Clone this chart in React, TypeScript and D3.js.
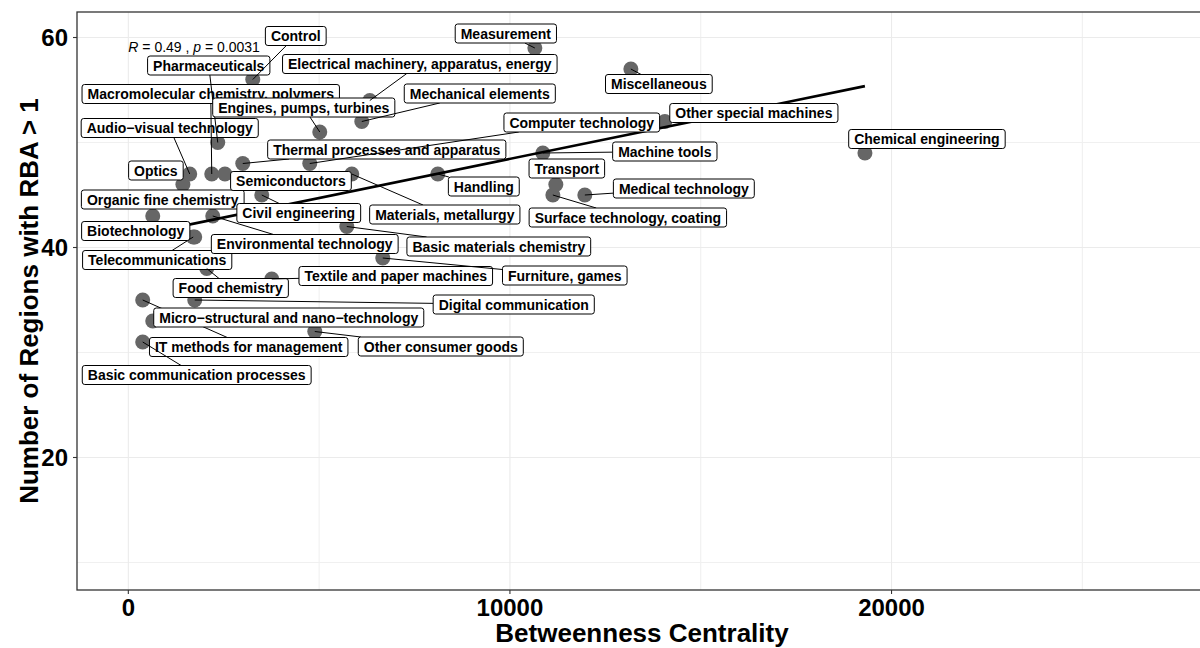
import React from "react";
import * as d3 from "d3";

// ---- data (ordered by betweenness, ascending) ----
const fields = [
  "IT methods for management",
  "Basic communication processes",
  "Organic fine chemistry",
  "Micro\u2212structural and nano\u2212technology",
  "Optics",
  "Audio\u2212visual technology",
  "Telecommunications",
  "Biotechnology",
  "Digital communication",
  "Food chemistry",
  "Macromolecular chemistry, polymers",
  "Environmental technology",
  "Pharmaceuticals",
  "Semiconductors",
  "Thermal processes and apparatus",
  "Control",
  "Civil engineering",
  "Textile and paper machines",
  "Computer technology",
  "Other consumer goods",
  "Engines, pumps, turbines",
  "Basic materials chemistry",
  "Materials, metallurgy",
  "Mechanical elements",
  "Electrical machinery, apparatus, energy",
  "Furniture, games",
  "Handling",
  "Measurement",
  "Machine tools",
  "Surface technology, coating",
  "Transport",
  "Medical technology",
  "Miscellaneous",
  "Other special machines",
  "Chemical engineering",
];
const betweenness = [
  377, 377, 640, 640, 1430, 1609, 1700, 1740, 1740, 2055, 2186, 2212, 2343, 2532, 2999, 3261, 3497, 3759,
  4755, 4886, 5017, 5725, 5856, 6118, 6328, 6668, 8110, 10653, 10862, 11125, 11203, 11963, 13169, 14060, 19303,
];
const regionsRBA = [
  35, 31, 43, 33, 46, 47, 41, 41, 35, 38, 47, 43, 50, 47, 48, 56, 45, 37,
  48, 32, 51, 42, 47, 52, 54, 39, 47, 59, 49, 45, 46, 45, 57, 52, 49,
];
const xMajorTicks = [0, 10000, 20000];
const xMinorTicks = [5000, 15000, 25000];
const yMajorTicks = [20, 40, 60];
const yMinorTicks = [10, 30, 50];
const corR = "0.49";
const corP = "0.0031";
const corLabelAt = [0, 58.6];
const xTitle = "Betweenness Centrality";
const yTitle = "Number of Regions with RBA > 1";

// ---- repel-label layout: offsets (px) from point to label centre ----
const labelDx = [
  106, 54, 10, 136, -27, -20, -36, -59, 319, 24, -1, 92, -9, 66, 144, 43, 37, 124,
  272, 126, -16, 152, 93, 118, 50, 182, 46, -29, 122, 75, 11, 99, 28, 89, 62,
];
const labelDy = [
  47, 33, -16.5, -3.5, -14, -46, 23, -6, 4.5, 19.5, -80, 28, -77, 7, -14, -43.5, 18, -3,
  -41, 15, -24.5, 20, 40.5, -28, -36.5, 17.5, 12.5, -14.5, -1.5, 22.5, -16, -6.5, 15, -8.5, -14,
];

const FONT = "'Liberation Sans', Arial, Helvetica, sans-serif";

function measure(text: string, font: string): number {
  const c = document.createElement("canvas").getContext("2d");
  if (!c) return text.length * 8;
  c.font = font;
  return c.measureText(text).width;
}

export default function App() {
  const W = 1200;
  const H = 648;
  const P = { left: 77, right: 1207, top: 12, bottom: 590 };
  const x = d3.scaleLinear().domain([-1345, 28267]).range([P.left, P.right]);
  const y = d3.scaleLinear().domain([7.38, 62.43]).range([P.bottom, P.top]);

  // linear regression
  const n = betweenness.length;
  const mx = d3.mean(betweenness) as number;
  const my = d3.mean(regionsRBA) as number;
  let sxy = 0, sxx = 0;
  for (let i = 0; i < n; i++) {
    sxy += (betweenness[i] - mx) * (regionsRBA[i] - my);
    sxx += (betweenness[i] - mx) ** 2;
  }
  const slope = sxy / sxx;
  const icpt = my - slope * mx;
  const [xmin, xmax] = d3.extent(betweenness) as [number, number];
  const line = d3.line<number>().x((v) => x(v)).y((v) => y(icpt + slope * v));

  const labelFont = `bold 14px ${FONT}`;
  const labels = fields.map((name, i) => {
    const px = x(betweenness[i]);
    const py = y(regionsRBA[i]);
    const cx = px + labelDx[i];
    const cy = py + labelDy[i];
    const tw = measure(name, labelFont);
    const w = tw + 11;
    const h = 19;
    const bx1 = cx - w / 2, bx2 = cx + w / 2, by1 = cy - h / 2, by2 = cy + h / 2;
    const dx = cx - px, dy = cy - py;
    let t = 1;
    const inside = px >= bx1 && px <= bx2 && py >= by1 && py <= by2;
    if (!inside) {
      const ts: number[] = [];
      if (dx !== 0) {
        for (const bx of [bx1, bx2]) {
          const tt = (bx - px) / dx;
          const yy = py + tt * dy;
          if (tt >= 0 && tt <= 1 && yy >= by1 - 0.01 && yy <= by2 + 0.01) ts.push(tt);
        }
      }
      if (dy !== 0) {
        for (const by of [by1, by2]) {
          const tt = (by - py) / dy;
          const xx = px + tt * dx;
          if (tt >= 0 && tt <= 1 && xx >= bx1 - 0.01 && xx <= bx2 + 0.01) ts.push(tt);
        }
      }
      if (ts.length) t = Math.min(...ts);
    }
    const ex = px + t * dx, ey = py + t * dy;
    const segLen = Math.hypot(ex - px, ey - py);
    const showSeg = !inside && segLen > 11 && !(Math.abs(ey - py) < 6 && Math.abs(ex - px) < 20 && dy < 0 && dx > 40);
    return { name, px, py, cx, cy, w, h, bx1, by1, ex, ey, showSeg };
  });

  return (
    <svg
      width={W}
      height={H}
      style={{ position: "absolute", left: 0, top: 0, background: "#fff" }}
      fontFamily={FONT}
    >
      <defs>
        <clipPath id="panel">
          <rect x={P.left} y={P.top} width={P.right - P.left} height={P.bottom - P.top} />
        </clipPath>
      </defs>
      <rect x={0} y={0} width={W} height={H} fill="#fff" />
      <g clipPath="url(#panel)">
        {xMinorTicks.map((v) => (
          <line key={"xm" + v} x1={x(v)} x2={x(v)} y1={P.top} y2={P.bottom} stroke="#f0f0f0" strokeWidth={1.1} />
        ))}
        {yMinorTicks.map((v) => (
          <line key={"ym" + v} x1={P.left} x2={P.right} y1={y(v)} y2={y(v)} stroke="#f0f0f0" strokeWidth={1.1} />
        ))}
        {xMajorTicks.map((v) => (
          <line key={"xM" + v} x1={x(v)} x2={x(v)} y1={P.top} y2={P.bottom} stroke="#ebebeb" strokeWidth={1.1} />
        ))}
        {yMajorTicks.map((v) => (
          <line key={"yM" + v} x1={P.left} x2={P.right} y1={y(v)} y2={y(v)} stroke="#ebebeb" strokeWidth={1.1} />
        ))}
        {labels.map((l, i) => (
          <circle key={"pt" + i} cx={l.px} cy={l.py} r={7.5} fill="#666666" />
        ))}
        <path d={line([xmin, xmax]) || ""} stroke="#000" strokeWidth={2.6} fill="none" />
        <text x={x(corLabelAt[0])} y={y(corLabelAt[1])} fontSize={14} fill="#000">
          <tspan fontStyle="italic">R</tspan>
          <tspan>{` = ${corR} , `}</tspan>
          <tspan fontStyle="italic">p</tspan>
          <tspan>{` = ${corP}`}</tspan>
        </text>
        {labels.map((l, i) => (
          <g key={"lb" + i}>
            {l.showSeg && <line x1={l.px} y1={l.py} x2={l.ex} y2={l.ey} stroke="#000" strokeWidth={1} />}
            <rect x={l.bx1} y={l.by1} width={l.w} height={l.h} rx={2.5} ry={2.5} fill="#fff" stroke="#000" strokeWidth={1} />
            <text x={l.cx} y={l.cy + 5} textAnchor="middle" fontSize={14} fontWeight="bold" fill="#000">
              {l.name}
            </text>
          </g>
        ))}
      </g>
      <rect
        x={P.left}
        y={P.top}
        width={P.right - P.left}
        height={P.bottom - P.top}
        fill="none"
        stroke="#333"
        strokeWidth={1.3}
      />
      {xMajorTicks.map((v) => (
        <g key={"xt" + v}>
          <line x1={x(v)} x2={x(v)} y1={P.bottom} y2={P.bottom + 4} stroke="#333" strokeWidth={1.1} />
          <text x={x(v)} y={616} textAnchor="middle" fontSize={24} fontWeight="bold" fill="#000">
            {d3.format("d")(v)}
          </text>
        </g>
      ))}
      {yMajorTicks.map((v) => (
        <g key={"yt" + v}>
          <line x1={P.left - 4} x2={P.left} y1={y(v)} y2={y(v)} stroke="#333" strokeWidth={1.1} />
          <text x={68} y={y(v) + 8.5} textAnchor="end" fontSize={24} fontWeight="bold" fill="#000">
            {v}
          </text>
        </g>
      ))}
      <text x={(P.left + P.right) / 2} y={642} textAnchor="middle" fontSize={26} fontWeight="bold" fill="#000">
        {xTitle}
      </text>
      <text
        transform={`translate(38,${(P.top + P.bottom) / 2}) rotate(-90)`}
        textAnchor="middle"
        fontSize={26}
        fontWeight="bold"
        fill="#000"
      >
        {yTitle}
      </text>
    </svg>
  );
}
